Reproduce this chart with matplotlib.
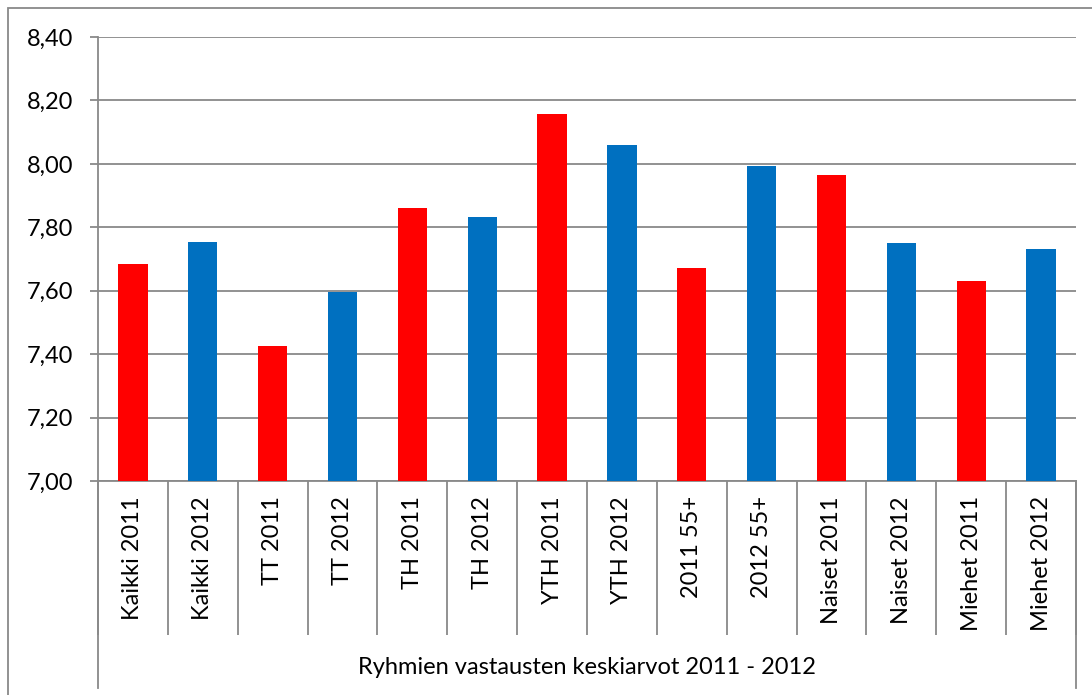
import matplotlib
matplotlib.use("Agg")
import matplotlib.pyplot as plt
from matplotlib.lines import Line2D
from matplotlib.patches import Rectangle
import numpy as np

# ryhmät ja keskiarvot
ryhmat = ["Kaikki 2011", "Kaikki 2012", "TT 2011", "TT 2012", "TH 2011", "TH 2012",
          "YTH 2011", "YTH 2012", "2011 55+", "2012 55+", "Naiset 2011", "Naiset 2012",
          "Miehet 2011", "Miehet 2012"]
arvot = [7.685, 7.754, 7.426, 7.596, 7.861, 7.833, 8.158, 8.060,
         7.672, 7.994, 7.965, 7.751, 7.631, 7.732]
varit = ["#FF0000", "#0070C0"] * 7
y_ticks = [7.0, 7.2, 7.4, 7.6, 7.8, 8.0, 8.2, 8.4]
otsikko = "Ryhmien vastausten keskiarvot 2011 - 2012"

plt.rcParams['font.family'] = ['Lato', 'DejaVu Sans']
W, H = 1092, 695
fig = plt.figure(figsize=(W / 100, H / 100), dpi=100)
grey = "#898989"
fs = 17

# akselin paikka pikseleinä
x0, x1, ytop, ybot = 98, 1076, 37, 481
ax = fig.add_axes([x0 / W, (H - ybot) / H, (x1 - x0) / W, (ybot - ytop) / H])

x = np.arange(len(arvot))
ax.bar(x, np.array(arvot) - 7.0, bottom=7.0, width=0.42, color=varit, zorder=3)

ax.set_xlim(-0.5, len(arvot) - 0.5)
ax.set_ylim(7.0, 8.4)
ax.set_yticks(y_ticks)
ax.set_yticklabels([("%.2f" % v).replace(".", ",") for v in y_ticks], fontsize=fs)
ax.yaxis.grid(True, color=grey, linewidth=1.3, zorder=0)
ax.tick_params(axis='y', length=6, width=1.3, color=grey, pad=12)

# kategoriarajat pitkinä tikkeinä, nimet keskelle
ax.set_xticks(np.arange(len(arvot) + 1) - 0.5)
ax.set_xticklabels([])
ax.tick_params(axis='x', which='major', length=111, width=1.3, color=grey)
ax.set_xticks(x, minor=True)
ax.set_xticklabels(ryhmat, minor=True, rotation=90, fontsize=fs)
ax.tick_params(axis='x', which='minor', length=0, pad=11)

for s in ["top", "right"]:
    ax.spines[s].set_visible(False)
ax.spines["left"].set_color(grey)
ax.spines["left"].set_linewidth(1.3)
ax.spines["bottom"].set_color(grey)
ax.spines["bottom"].set_linewidth(1.3)

# pystyviivat alas ja ryhmän otsikko
def fx(px):
    return px / W

def fy(py):
    return 1 - py / H

fig.add_artist(Line2D([fx(x0), fx(x0)], [fy(ybot), fy(688)], color=grey, lw=1.3))
fig.add_artist(Line2D([fx(x1), fx(x1)], [fy(ybot), fy(688)], color=grey, lw=1.3))
fig.text(fx((x0 + x1) / 2), fy(668), otsikko, ha="center", va="center", fontsize=fs)

# ulkoreunus
fig.add_artist(Rectangle((fx(8), fy(700)), fx(1100 - 8), fy(8) - fy(700),
                         fill=False, edgecolor=grey, lw=1.3))

plt.savefig("out.png", dpi=100)
plt.close()
